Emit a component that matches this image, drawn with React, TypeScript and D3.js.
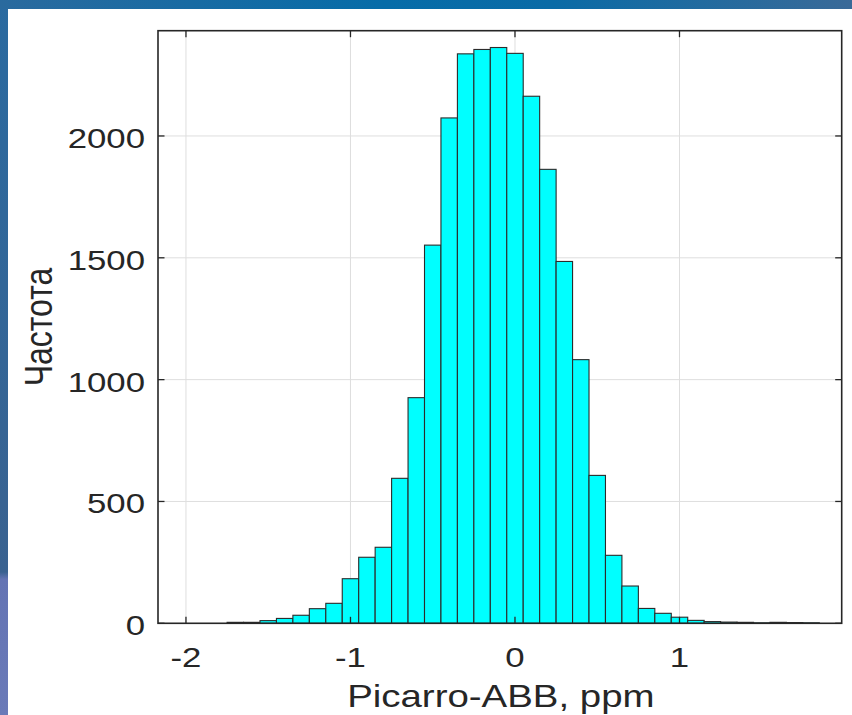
import React from "react";
import * as d3 from "d3";

const binLeft = [-1.75, -1.65, -1.55, -1.45, -1.35, -1.25, -1.15, -1.05, -0.95, -0.85, -0.75, -0.65, -0.55, -0.45, -0.35, -0.25, -0.15, -0.05, 0.05, 0.15, 0.25, 0.35, 0.45, 0.55, 0.65, 0.75, 0.85, 0.95, 1.05, 1.15, 1.25, 1.35, 1.45, 1.55, 1.65, 1.75];
const binWidth = 0.1;
const counts = [4, 4, 11, 20, 33, 60, 82, 183, 271, 312, 595, 926, 1552, 2074, 2337, 2355, 2363, 2339, 2163, 1863, 1485, 1082, 607, 279, 153, 61, 41, 25, 12, 7, 5, 4, 2, 4, 3, 2];
const xTicks = [-2, -1, 0, 1];
const yTicks = [0, 500, 1000, 1500, 2000];
const xDomain = [-2.17, 1.986];
const yDomain = [0, 2432];
const xLabel = "Picarro-ABB, ppm";
const yLabel = "Частота";

const W = 852;
const H = 715;
const L = 158, R = 841.7, T = 30.7, B = 623.3;
const SX = 1.22;
const FONT = "'Liberation Sans', Arial, Helvetica, sans-serif";
const TXT = "#262626";

export default function App() {
  const x = d3.scaleLinear().domain(xDomain).range([L, R]);
  const y = d3.scaleLinear().domain(yDomain).range([B, T]);
  const tickLen = 6.5;
  return (
    <svg width={W} height={H} style={{ position: "absolute", left: 0, top: 0 }}>
      <defs>
        <linearGradient id="topg" x1="0" y1="0" x2="1" y2="0">
          <stop offset="0" stopColor="#2a6a9e" />
          <stop offset="0.45" stopColor="#066ca8" />
          <stop offset="0.65" stopColor="#0a6ba6" />
          <stop offset="1" stopColor="#3a6a98" />
        </linearGradient>
        <linearGradient id="leftg" x1="0" y1="0" x2="0" y2="1">
          <stop offset="0" stopColor="#2a6aa0" />
          <stop offset="0.8" stopColor="#3a6290" />
          <stop offset="0.81" stopColor="#6474b4" />
          <stop offset="1" stopColor="#6a7ab8" />
        </linearGradient>
      </defs>
      <rect x={0} y={0} width={W} height={H} fill="url(#leftg)" />
      <rect x={0} y={0} width={W} height={9} fill="url(#topg)" />
      <rect x={8} y={9} width={W - 8} height={H - 9} fill="#ffffff" />
      {/* grid */}
      <g stroke="#dedede" strokeWidth={1}>
        {xTicks.map((t) => (
          <line key={"gx" + t} x1={x(t)} x2={x(t)} y1={T} y2={B} />
        ))}
        {yTicks.map((t) => (
          <line key={"gy" + t} x1={L} x2={R} y1={y(t)} y2={y(t)} />
        ))}
      </g>
      {/* bars */}
      <g fill="#00ffff" stroke="#2b2b2b" strokeWidth={1.1}>
        {counts.map((c, i) => (
          <rect
            key={i}
            x={x(binLeft[i])}
            y={y(c)}
            width={x(binLeft[i] + binWidth) - x(binLeft[i])}
            height={y(0) - y(c)}
          />
        ))}
      </g>
      {/* box */}
      <rect x={L} y={T} width={R - L} height={B - T} fill="none" stroke="#262626" strokeWidth={1.6} />
      {/* ticks */}
      <g stroke="#262626" strokeWidth={1.3}>
        {xTicks.map((t) => (
          <g key={"tx" + t}>
            <line x1={x(t)} x2={x(t)} y1={B} y2={B - tickLen} />
            <line x1={x(t)} x2={x(t)} y1={T} y2={T + tickLen} />
          </g>
        ))}
        {yTicks.map((t) => (
          <g key={"ty" + t}>
            <line x1={L} x2={L + tickLen} y1={y(t)} y2={y(t)} />
            <line x1={R} x2={R - tickLen} y1={y(t)} y2={y(t)} />
          </g>
        ))}
      </g>
      {/* tick labels */}
      <g fill={TXT} fontFamily={FONT} fontSize={28.5}>
        {xTicks.map((t) => (
          <text key={"lx" + t} transform={`translate(${x(t)},${667}) scale(${SX},1)`} textAnchor="middle">
            {t}
          </text>
        ))}
        {yTicks.map((t) => (
          <text key={"ly" + t} transform={`translate(${145},${y(t) + 12}) scale(${SX},1)`} textAnchor="end">
            {t}
          </text>
        ))}
      </g>
      <text
        transform={`translate(${(L + R) / 2 + 1},${707}) scale(${SX},1)`}
        textAnchor="middle"
        fill={TXT}
        fontFamily={FONT}
        fontSize={31.5}
      >
        {xLabel}
      </text>
      <text
        transform={`translate(${52},${(T + B) / 2}) scale(${SX},1) rotate(-90)`}
        textAnchor="middle"
        fill={TXT}
        fontFamily={FONT}
        fontSize={32}
      >
        {yLabel}
      </text>
    </svg>
  );
}
